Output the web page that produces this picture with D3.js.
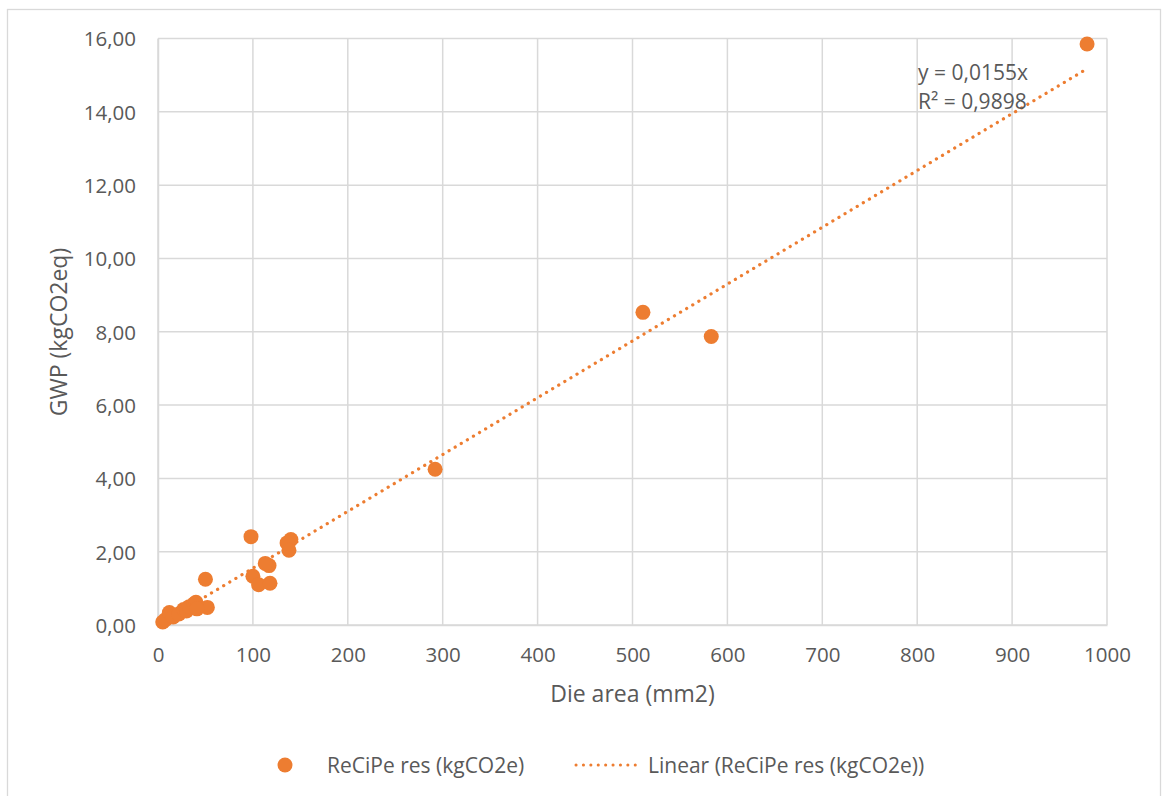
<!DOCTYPE html>
<html>
<head>
<meta charset="utf-8">
<script src="https://cdn.jsdelivr.net/npm/d3@7"></script>
<style>
  body { margin: 0; background: #fff; }
  svg { display: block; font-family: "Open Sans", "Noto Sans", sans-serif; }
</style>
</head>
<body>
<div id="chart"></div>
<script>
// Die area (mm2) vs GWP (kgCO2eq)
const dieArea = [979, 511, 583, 292, 98, 140, 136, 138, 117, 113, 100, 106, 118, 50, 52,
                 5, 8, 12, 16, 22, 27, 30, 33, 38, 40, 41];
const gwp =     [15.85, 8.53, 7.87, 4.25, 2.41, 2.33, 2.24, 2.04, 1.62, 1.68, 1.33, 1.10, 1.14, 1.25, 0.48,
                 0.08, 0.15, 0.34, 0.22, 0.30, 0.42, 0.38, 0.50, 0.58, 0.62, 0.44];
const xTicks = [0, 100, 200, 300, 400, 500, 600, 700, 800, 900, 1000];
const yTicks = [0, 2, 4, 6, 8, 10, 12, 14, 16];
const slope = 0.0155;
const trendLabel = ["y = 0,0155x", "R² = 0,9898"];
const seriesName = "ReCiPe res (kgCO2e)";
const trendName = "Linear (ReCiPe res (kgCO2e))";

const width = 1168, height = 796;
const margin = {top: 38.5, right: 61, bottom: 171, left: 158};
const orange = "#ED7D31", grid = "#d9d9d9", textCol = "#595959";

const svg = d3.select("#chart").append("svg").attr("width", width).attr("height", height);

// outer chart frame
svg.append("rect").attr("x", 7.5).attr("y", 9.5).attr("width", 1153).attr("height", 800)
   .attr("fill", "#fff").attr("stroke", grid).attr("stroke-width", 1.3);

const x = d3.scaleLinear().domain([0, 1000]).range([margin.left, width - margin.right]);
const y = d3.scaleLinear().domain([0, 16]).range([height - margin.bottom, margin.top]);

const fmtY = d => d3.format(".2f")(d).replace(".", ",");

// grid lines
svg.append("g").selectAll("line").data(yTicks).join("line")
   .attr("x1", x(0)).attr("x2", x(1000)).attr("y1", d => y(d)).attr("y2", d => y(d))
   .attr("stroke", grid).attr("stroke-width", 1.5);
svg.append("g").selectAll("line").data(xTicks).join("line")
   .attr("x1", d => x(d)).attr("x2", d => x(d)).attr("y1", y(0)).attr("y2", y(16))
   .attr("stroke", grid).attr("stroke-width", 1.5);

// axes
const gx = svg.append("g").attr("transform", `translate(0,${y(0)})`)
   .call(d3.axisBottom(x).tickValues(xTicks).tickSize(0).tickPadding(22).tickFormat(d3.format("d")));
const gy = svg.append("g").attr("transform", `translate(${x(0)},0)`)
   .call(d3.axisLeft(y).tickValues(yTicks).tickSize(0).tickPadding(22).tickFormat(fmtY));
[gx, gy].forEach(g => {
  g.select(".domain").attr("stroke", grid).attr("stroke-width", 1.5);
  g.selectAll("text").attr("fill", textCol).attr("font-size", "20.5px").attr("font-family", "Open Sans");
});
gx.selectAll("text").attr("dy", null).attr("y", 32).attr("dominant-baseline", "middle");
gy.selectAll("text").attr("dy", "0.36em");

// axis titles
svg.append("text").attr("x", x(500)).attr("y", 702).attr("text-anchor", "middle")
   .attr("fill", textCol).attr("font-size", "23px").text("Die area (mm2)");
svg.append("text").attr("transform", `translate(67,${332}) rotate(-90)`).attr("text-anchor", "middle")
   .attr("fill", textCol).attr("font-size", "23px").text("GWP (kgCO2eq)");

// trend line
const xMin = d3.min(dieArea), xMax = d3.max(dieArea);
svg.append("line")
   .attr("x1", x(xMin)).attr("y1", y(slope * xMin))
   .attr("x2", x(xMax)).attr("y2", y(slope * xMax))
   .attr("stroke", orange).attr("stroke-width", 3.2)
   .attr("stroke-linecap", "round").attr("stroke-dasharray", "0.1 7");

// points
const pts = dieArea.map((d, i) => [d, gwp[i]]);
svg.append("g").selectAll("circle").data(pts).join("circle")
   .attr("cx", d => x(d[0])).attr("cy", d => y(d[1])).attr("r", 7.5).attr("fill", orange);

// trend equation
svg.append("g").selectAll("text").data(trendLabel).join("text")
   .attr("x", 918).attr("y", (d, i) => 80 + i * 29)
   .attr("fill", textCol).attr("font-size", "21px").text(d => d);

// legend
const lg = svg.append("g").attr("transform", "translate(0,765)");
lg.append("circle").attr("cx", 285).attr("cy", 0).attr("r", 7.5).attr("fill", orange);
lg.append("text").attr("x", 327).attr("y", 0).attr("dy", "0.36em").attr("fill", textCol)
  .attr("font-size", "21px").text(seriesName);
lg.append("line").attr("x1", 576).attr("x2", 642).attr("y1", 0).attr("y2", 0)
  .attr("stroke", orange).attr("stroke-width", 3).attr("stroke-linecap", "round")
  .attr("stroke-dasharray", "0.1 7.3");
lg.append("text").attr("x", 648).attr("y", 0).attr("dy", "0.36em").attr("fill", textCol)
  .attr("font-size", "21px").text(trendName);
</script>
</body>
</html>
